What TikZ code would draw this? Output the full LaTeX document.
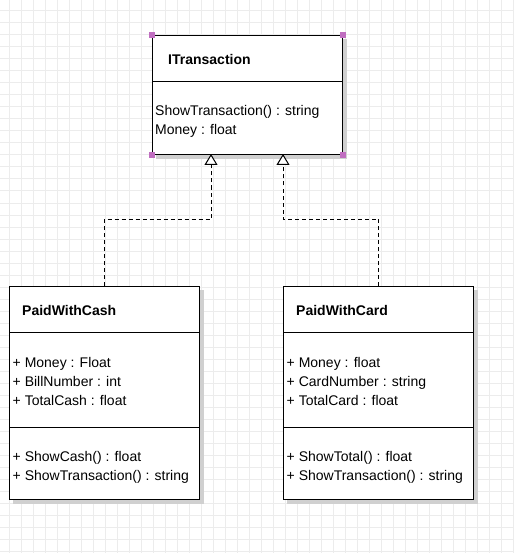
\documentclass[tikz,border=0pt]{standalone}
\usepackage{fontspec}
\setmainfont{Liberation Sans}
\usetikzlibrary{arrows.meta,backgrounds,calc}
\definecolor{gridc}{RGB}{236,236,236}
\definecolor{shadowc}{RGB}{208,208,208}
\definecolor{handlec}{RGB}{192,110,192}
\begin{document}
\begin{tikzpicture}[x=1pt,y=-1pt,
  gridline/.style={draw=gridc,line width=1pt},
  umlbox/.style={draw=black,line width=1pt,fill=white,rectangle,inner sep=0pt,anchor=north west},
  boxshadow/.style={fill=shadowc},
  sepline/.style={draw=black,line width=1pt},
  title/.style={anchor=base west,inner sep=0pt,font=\fontsize{14}{17}\selectfont\bfseries},
  member/.style={anchor=base west,inner sep=0pt,font=\fontsize{14}{17}\selectfont},
  handle/.style={rectangle,fill=handlec,inner sep=0pt,minimum size=6pt},
  realize/.style={draw=black,line width=1pt,dash pattern=on 4pt off 3pt,
    -{Triangle[width=13pt,length=11pt,fill=white,line width=1pt]}}
]
\useasboundingbox (0,0) rectangle (514,553);
\begin{scope}[on background layer]
\fill[white] (0,0) rectangle (514,553);
\foreach \x in {9,21,...,513} \draw[gridline] (\x,0) -- (\x,553);
\foreach \y in {11,23,...,551} \draw[gridline] (0,\y) -- (514,\y);
\end{scope}

% ITransaction
\node[umlbox,minimum width=190pt,minimum height=119pt] (it) at (152,35) {};
\draw[sepline] (it.west |- 0,82) -- (it.east |- 0,82);
\node[title] (ittitle) at (168,65) {ITransaction};
\node[member] (ita1) at (155,116) {ShowTransaction() : string};
\node[member] (ita2) at (155,135) {Money : float};

% PaidWithCash
\node[umlbox,minimum width=190pt,minimum height=213pt] (cash) at (9,286) {};
\draw[sepline] (cash.west |- 0,332) -- (cash.east |- 0,332);
\draw[sepline] (cash.west |- 0,427) -- (cash.east |- 0,427);
\node[title] (cashtitle) at (22,315) {PaidWithCash};
\node[member] (casha1) at (12.5,367) {+ Money : Float};
\node[member] (casha2) at (12.5,386) {+ BillNumber : int};
\node[member] (casha3) at (12.5,405) {+ TotalCash : float};
\node[member] (cashm1) at (12.5,461) {+ ShowCash() : float};
\node[member] (cashm2) at (12.5,480) {+ ShowTransaction() : string};

% PaidWithCard
\node[umlbox,minimum width=190pt,minimum height=213pt] (card) at (283,286) {};
\draw[sepline] (card.west |- 0,332) -- (card.east |- 0,332);
\draw[sepline] (card.west |- 0,427) -- (card.east |- 0,427);
\node[title] (cardtitle) at (296,315) {PaidWithCard};
\node[member] (carda1) at (286.5,367) {+ Money : float};
\node[member] (carda2) at (286.5,386) {+ CardNumber : string};
\node[member] (carda3) at (286.5,405) {+ TotalCard : float};
\node[member] (cardm1) at (286.5,461) {+ ShowTotal() : float};
\node[member] (cardm2) at (286.5,480) {+ ShowTransaction() : string};

% shadows
\begin{scope}[on background layer]
\foreach \b in {it,cash,card}
  \fill[boxshadow] ($(\b.north west)+(4,4)$) rectangle ($(\b.south east)+(4,4)$);
\end{scope}

% connectors
\coordinate (t1) at (211,154);
\coordinate (b1) at (211,219);
\coordinate (t2) at (283,154);
\coordinate (b2) at (283,219);
\draw[realize] (cash.north) |- (b1) -- (t1);
\draw[realize] (card.north) |- (b2) -- (t2);

% selection handles
\node[handle] (h1) at (it.north west) {};
\node[handle] (h2) at (it.north east) {};
\node[handle] (h3) at (it.south west) {};
\node[handle] (h4) at (it.south east) {};
\end{tikzpicture}
\end{document}
